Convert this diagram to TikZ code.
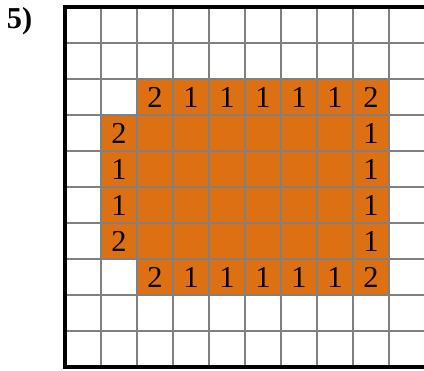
\documentclass[tikz,border=0pt]{standalone}
\usepackage{fontspec}
\setmainfont{Liberation Serif}
\definecolor{fillorange}{RGB}{221,112,18}
\begin{document}
\begin{tikzpicture}[num/.style={inner sep=0pt, font=\fontsize{24}{24}\selectfont}]
    \useasboundingbox (-1.806,0.194) rectangle (9.972,-10.111);
    % Label
    \node[anchor=base west, inner sep=0pt, font=\fontsize{24}{24}\selectfont\bfseries] (lbl) at (-1.62,-0.585) {5)};
    % Shaded region
    \fill[fillorange] (2,-2) -- (9,-2) -- (9,-8) -- (2,-8) -- (2,-7) -- (1,-7) -- (1,-3) -- (2,-3) -- cycle;
    % Grid
    \draw[step=1cm, gray, line width=1.6pt] (0,0) grid (10,-10);
    % Border
    \draw[line width=2.4pt] (10.5,0) -- (0,0) -- (0,-10) -- (10.5,-10);
    % Numbers
    \foreach \v [count=\i] in {2,1,1,1,1,1,2} {
        \node[num] (t\i) at (\i+1.5,-2.5) {\v};
        \node[num] (b\i) at (\i+1.5,-7.5) {\v};
    }
    \foreach \v [count=\i] in {2,1,1,2}
        \node[num] (l\i) at (1.5,-\i-2.5) {\v};
    \foreach \i in {1,...,4}
        \node[num] (r\i) at (8.5,-\i-2.5) {1};
\end{tikzpicture}
\end{document}
